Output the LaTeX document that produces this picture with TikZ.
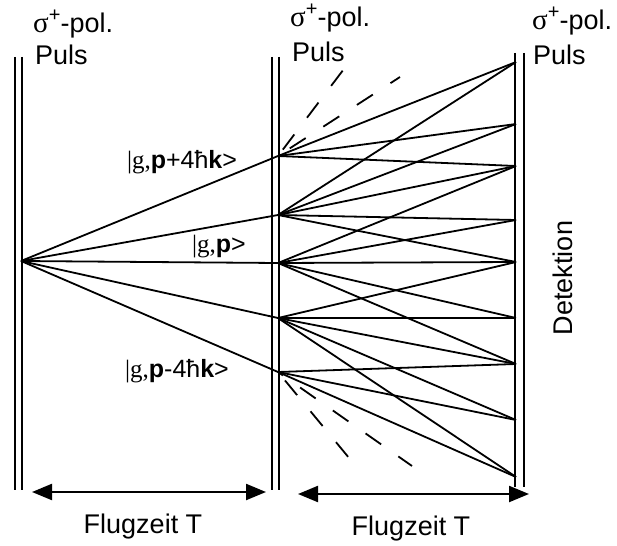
\documentclass[tikz,border=0pt]{standalone}
\usepackage{fontspec}
\setmainfont{Liberation Sans}
\newfontfamily\seriffont{Liberation Serif}
\usetikzlibrary{arrows.meta}
\newcommand\sigpol{{\seriffont\fontsize{29}{30}\selectfont σ}\raisebox{0.42em}{\fontsize{20}{20}\selectfont +}-pol.}
\begin{document}
\begin{tikzpicture}[x=1pt,y=-1pt,
  thickv/.style={line width=2.8pt},
  thinv/.style={line width=1.6pt},
  ray/.style={line width=1.8pt},
  dray/.style={line width=1.8pt, dash pattern=on 19pt off 21pt},
  lbl/.style={font=\fontsize{25}{28}\selectfont, inner sep=0pt},
  txt/.style={font=\fontsize{27}{30}\selectfont, inner sep=0pt},
  span/.style={line width=2.2pt, {Triangle[length=20pt,width=16pt]}-{Triangle[length=20pt,width=16pt]}}]
\useasboundingbox (0,0) rectangle (617,545);
\fill[white] (0,0) rectangle (617,545);

% pulse lines
\draw[thickv] (15,57) -- (15,490);
\draw[thinv] (22,57) -- (22,490);
\draw[thinv] (272,57) -- (272,490);
\draw[thickv] (279,57) -- (279,490);
\draw[thickv] (515,53) -- (515,487);
\draw[thinv] (524,53) -- (524,487);

% points
\coordinate (S) at (21,261);
\coordinate (M1) at (278,156);
\coordinate (M2) at (278,215);
\coordinate (M3) at (278,263);
\coordinate (M4) at (278,318);
\coordinate (M5) at (278,372);
\coordinate (R1) at (516,62);
\coordinate (R2) at (516,124);
\coordinate (R3) at (516,166);
\coordinate (R4) at (516,220);
\coordinate (R5) at (516,262);
\coordinate (R6) at (516,318);
\coordinate (R7) at (516,364);
\coordinate (R8) at (516,420);
\coordinate (R9) at (516,477);
\coordinate (D1) at (353,57);
\coordinate (D2) at (400,77);
\coordinate (D3) at (359,470);
\coordinate (D4) at (412,466);

% rays from first pulse
\foreach \m in {M1,M2,M3,M4,M5} \draw[ray] (S) -- (\m);
% rays from second pulse
\foreach \r in {R1,R2,R3} \draw[ray] (M1) -- (\r);
\foreach \r in {R1,R2,R3,R4,R5} \draw[ray] (M2) -- (\r);
\foreach \r in {R3,R4,R5,R6,R7} \draw[ray] (M3) -- (\r);
\foreach \r in {R5,R6,R7,R8,R9} \draw[ray] (M4) -- (\r);
\foreach \r in {R7,R8,R9} \draw[ray] (M5) -- (\r);
% dashed rays
\draw[dray, dash phase=32pt] (M1) -- (D1);
\draw[dray, dash phase=26pt] (M1) -- (D2);
\draw[dray, dash phase=29pt] (M5) -- (D3);
\draw[dray, dash phase=13pt] (M5) -- (D4);

% labels
\node[lbl] (lp4) at (182,162) {{\seriffont|g,}\textbf{p}+4ħ\textbf{k}>};
\node[lbl] (lp0) at (219,247) {{\seriffont|g,}\textbf{p}>};
\node[lbl] (lm4) at (177,371) {{\seriffont|g,}\textbf{p}-4ħ\textbf{k}>};

% pulse texts
\node[txt, anchor=base west] (s1) at (33,33) {\sigpol};
\node[txt, anchor=base west] (p1) at (35,65) {Puls};
\node[txt, anchor=base west] (s2) at (290,27) {\sigpol};
\node[txt, anchor=base west] (p2) at (292,62) {Puls};
\node[txt, anchor=base west] (s3) at (532,30) {\sigpol};
\node[txt, anchor=base west] (p3) at (533,65) {Puls};

% detection
\node[txt, rotate=90] (det) at (563,278) {Detektion};

% time arrows
\coordinate (A1) at (32,492);
\coordinate (A2) at (266,492);
\coordinate (B1) at (298,494);
\coordinate (B2) at (529,494);
\draw[span] (A1) -- (A2);
\draw[span] (B1) -- (B2);
\node[txt, anchor=base] (f1) at (143,533) {Flugzeit T};
\node[txt, anchor=base] (f2) at (411,535) {Flugzeit T};
\end{tikzpicture}
\end{document}
